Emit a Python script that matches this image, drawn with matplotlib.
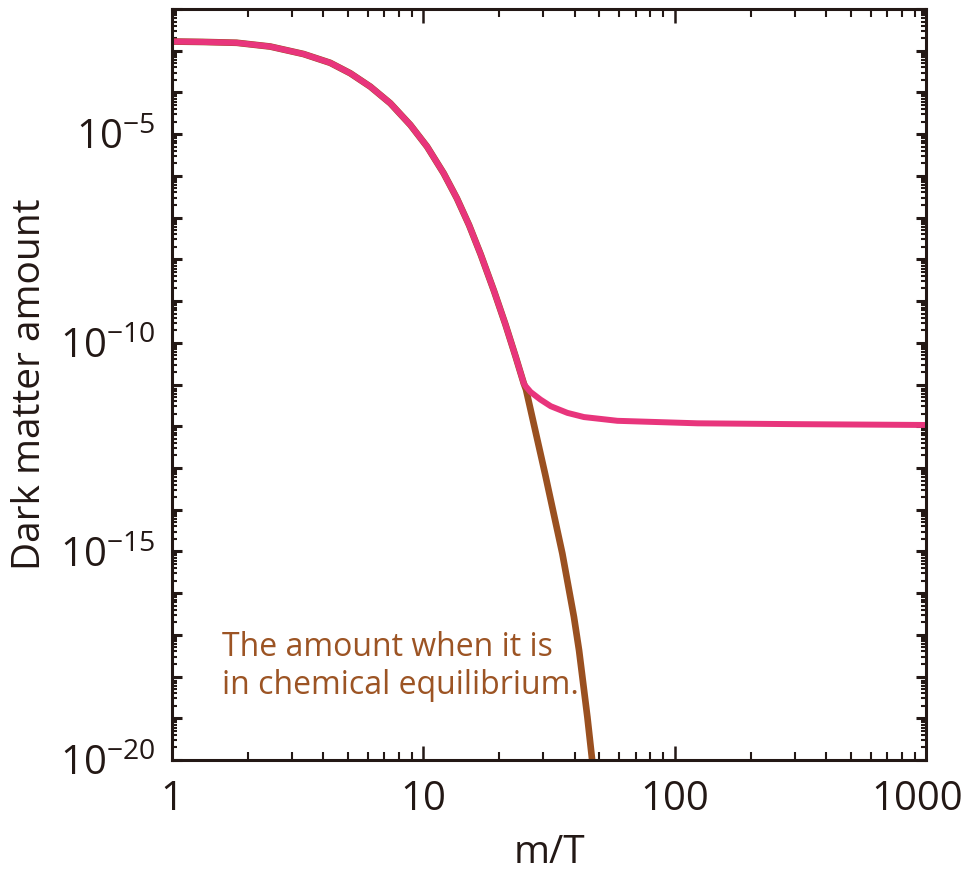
import numpy as np
import matplotlib.pyplot as plt
from matplotlib.ticker import FixedLocator, LogLocator, FuncFormatter, NullFormatter
from matplotlib.transforms import ScaledTranslation

plt.rcParams['font.family'] = ['Open Sans', 'DejaVu Sans']
plt.rcParams['mathtext.fontset'] = 'custom'
plt.rcParams['mathtext.rm'] = 'Open Sans'

# values (x = m/T, y stored as log10 of the amount)
x_common = [1.0, 1.33, 1.81, 2.46, 3.34, 4.26, 5.12, 6.15, 7.39, 8.88,
            10.35, 12.05, 13.6, 15.2, 16.9, 19.1, 21.2, 23.3, 25.1]
logy_common = [-2.78, -2.79, -2.81, -2.90, -3.08, -3.29, -3.54, -3.86, -4.26, -4.78,
               -5.30, -5.94, -6.54, -7.18, -7.88, -8.76, -9.56, -10.34, -10.98]

# after freeze-out (pink)
x_freeze = [25.5, 26.7, 29.2, 32.1, 37.4, 43.5, 59.1, 123, 300, 1000]
logy_freeze = [-11.04, -11.18, -11.36, -11.52, -11.68, -11.78, -11.87, -11.93, -11.95, -11.97]

# equilibrium branch (brown)
x_equil = [25.6, 30.5, 35.7, 39.7, 41.6, 44.9, 47.0]
logy_equil = [-11.12, -13.15, -15.05, -16.57, -17.37, -18.97, -20.05]

x_ticks = [1, 10, 100, 1000]
x_ticklabels = ['1', '10', '100', '1000']
y_labelled = [-5, -10, -15, -20]

pink = '#e8357c'
brown = '#9a5020'
ink = '#231815'

y_actual = 10.0 ** np.array(logy_common + logy_freeze)
x_actual = np.array(x_common + x_freeze)
y_eq = 10.0 ** np.array(logy_common + logy_equil)
x_eq = np.array(x_common + x_equil)

fig = plt.figure(figsize=(9.71, 8.72), dpi=100)
ax = fig.add_axes([0.177, 0.1284, 0.777, 0.8613])

ax.plot(x_eq, y_eq, color=brown, lw=4.8, solid_capstyle='butt', solid_joinstyle='round')
ax.plot(x_actual, y_actual, color=pink, lw=4.3, solid_capstyle='butt', solid_joinstyle='round')

ax.set_xscale('log')
ax.set_yscale('log')
ax.set_xlim(1, 1000)
ax.set_ylim(1e-20, 1e-2)

ax.xaxis.set_major_locator(FixedLocator(x_ticks))
ax.set_xticklabels(x_ticklabels)
ax.xaxis.set_minor_locator(LogLocator(base=10, subs=np.arange(2, 10)))
ax.xaxis.set_minor_formatter(NullFormatter())

ax.yaxis.set_major_locator(FixedLocator([10.0 ** k for k in range(-20, -1)]))
ax.yaxis.set_minor_locator(LogLocator(base=10, subs=np.arange(2, 10), numticks=100))
ax.yaxis.set_minor_formatter(NullFormatter())


def ylab(v, pos):
    k = int(round(np.log10(v)))
    if k in y_labelled:
        return r'$\mathregular{10^{%d}}$' % k
    return ''


ax.yaxis.set_major_formatter(FuncFormatter(ylab))

for s in ax.spines.values():
    s.set_linewidth(2.2)
    s.set_color(ink)

ax.tick_params(axis='x', which='major', direction='in', top=True, bottom=True,
               length=10, width=1.8, color=ink, labelsize=29, pad=14, labelcolor=ink)
ax.tick_params(axis='x', which='minor', direction='in', top=True, bottom=True,
               length=5.5, width=1.5, color=ink)
ax.tick_params(axis='y', which='major', direction='in', left=True, right=True,
               length=7.5, width=2.2, color=ink, labelsize=29, pad=12, labelcolor=ink)
ax.tick_params(axis='y', which='minor', direction='in', left=True, right=True,
               length=3.8, width=1.5, color=ink)

# nudge the last x label in so it stays inside the figure
last = ax.get_xticklabels()[-1]
last.set_transform(last.get_transform() + ScaledTranslation(-9 / 100, 0, fig.dpi_scale_trans))

ax.set_xlabel('m/T', fontsize=28, color=ink)
ax.xaxis.set_label_coords(0.5, -0.098)
ax.set_ylabel('Dark matter amount', fontsize=28, color=ink, labelpad=8)

ax.text(0.066, 0.172, 'The amount when it is\nin chemical equilibrium.',
        transform=ax.transAxes, ha='left', va='top', fontsize=23,
        color='#9c5424', linespacing=1.22)

fig.savefig('out.png', dpi=100)
